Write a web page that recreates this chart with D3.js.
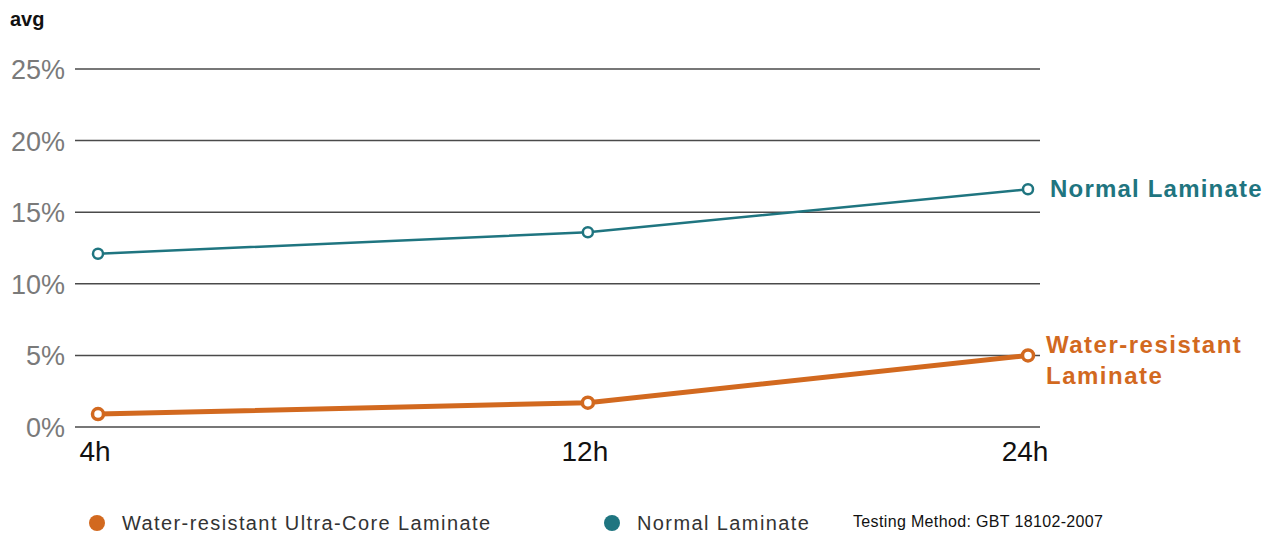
<!DOCTYPE html>
<html>
<head>
<meta charset="utf-8">
<script src="https://cdn.jsdelivr.net/npm/d3@7"></script>
<style>
body { margin: 0; background: #fff; }
svg { display: block; font-family: "Liberation Sans", Arial, sans-serif; }
</style>
</head>
<body>
<svg id="chart" width="1280" height="534"></svg>
<script>
let hours = ['4h', '12h', '24h']
let hourVals = [4, 12, 24]
let waterRes = [0.9, 1.7, 5.0]
let normal = [12.1, 13.6, 16.6]
let yTicks = [0, 5, 10, 15, 20, 25]

let orange = '#d2691f'
let teal = '#1f7580'

let svg = d3.select('#chart')

// the hour axis is compressed, not linear in time
let x = d3.scalePow()
	.exponent(0.4)
	.domain([4, 24])
	.range([98, 1028])
let y = d3.scaleLinear()
	.domain([0, 25])
	.range([427, 69])

// grid
svg.append('g')
	.selectAll('line')
	.data(yTicks)
	.join('line')
	.attr('x1', 75)
	.attr('x2', 1040)
	.attr('y1', d => y(d))
	.attr('y2', d => y(d))
	.attr('stroke', '#4a4a4a')
	.attr('stroke-width', 1.5)

svg.append('g')
	.selectAll('text')
	.data(yTicks)
	.join('text')
	.attr('x', 65)
	.attr('y', d => y(d) + 10)
	.attr('text-anchor', 'end')
	.attr('fill', '#7a7a7a')
	.attr('font-size', 27)
	.text(d => d + '%')

svg.append('text')
	.attr('x', 10)
	.attr('y', 26)
	.attr('font-size', 20)
	.attr('font-weight', 'bold')
	.attr('fill', '#111')
	.text('avg')

svg.append('g')
	.selectAll('text')
	.data(hours)
	.join('text')
	.attr('x', (d, i) => x(hourVals[i]) - 3)
	.attr('y', 461)
	.attr('text-anchor', 'middle')
	.attr('fill', '#111')
	.attr('font-size', 28)
	.text(d => d)

let line = d3.line()
	.x((d, i) => x(hourVals[i]))
	.y(d => y(d))

function series(vals, color, w, r, sw) {
	svg.append('path')
		.datum(vals)
		.attr('d', line)
		.attr('fill', 'none')
		.attr('stroke', color)
		.attr('stroke-width', w)
	svg.append('g')
		.selectAll('circle')
		.data(vals)
		.join('circle')
		.attr('cx', (d, i) => x(hourVals[i]))
		.attr('cy', d => y(d))
		.attr('r', r)
		.attr('fill', '#fff')
		.attr('stroke', color)
		.attr('stroke-width', sw)
}
series(normal, teal, 2.5, 5, 2.5)
series(waterRes, orange, 5, 5.5, 3.5)

// end labels
svg.append('text')
	.attr('x', 1050)
	.attr('y', y(normal[2]) + 8)
	.attr('fill', teal)
	.attr('font-size', 24)
	.attr('font-weight', 'bold')
	.attr('letter-spacing', 1.2)
	.text('Normal Laminate')

let wl = svg.append('text')
	.attr('fill', orange)
	.attr('font-size', 24)
	.attr('font-weight', 'bold')
	.attr('letter-spacing', 1.5)
wl.append('tspan').attr('x', 1046).attr('y', y(waterRes[2]) - 2).text('Water-resistant')
wl.append('tspan').attr('x', 1046).attr('y', y(waterRes[2]) + 29).text('Laminate')

// legend
let legend = [
	{ name: 'Water-resistant Ultra-Core Laminate', color: orange, x: 97 },
	{ name: 'Normal Laminate', color: teal, x: 612 },
]
let lg = svg.append('g')
	.selectAll('g')
	.data(legend)
	.join('g')
	.attr('transform', d => `translate(${d.x},523)`)
lg.append('circle')
	.attr('r', 8)
	.attr('fill', d => d.color)
lg.append('text')
	.attr('x', 25)
	.attr('y', 7)
	.attr('font-size', 20)
	.attr('letter-spacing', 1.4)
	.attr('fill', '#333')
	.text(d => d.name)

svg.append('text')
	.attr('x', 853)
	.attr('y', 527)
	.attr('font-size', 16)
	.attr('letter-spacing', 0.35)
	.attr('fill', '#111')
	.text('Testing Method: GBT 18102-2007')
</script>
</body>
</html>
